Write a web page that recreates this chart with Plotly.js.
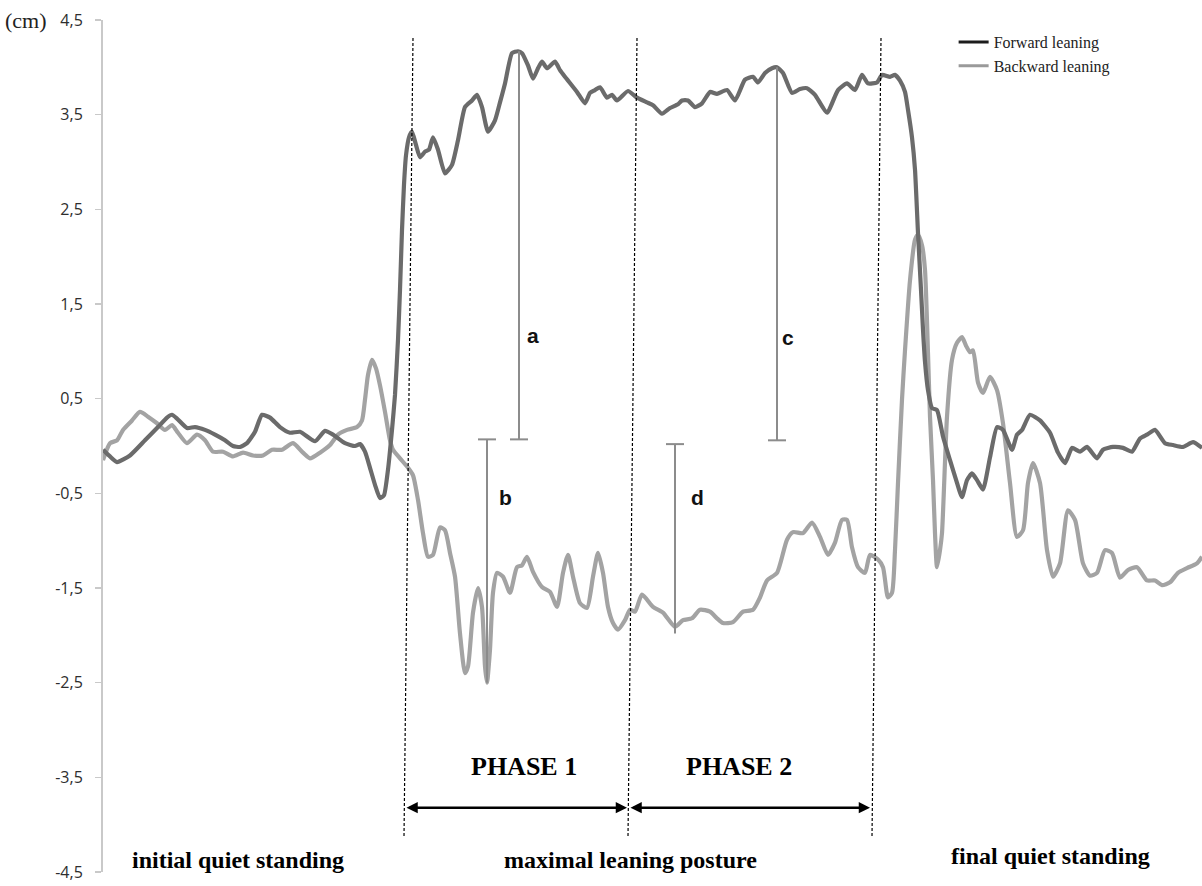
<!DOCTYPE html>
<html>
<head>
<meta charset="utf-8">
<script src="https://cdn.plot.ly/plotly-3.0.1.min.js"></script>
<style>html,body{margin:0;padding:0;background:#fff}</style>
</head>
<body>
<div id="chart" style="width:1202px;height:886px"></div>
<script>
// Centre-of-pressure displacement (cm) over the trial, sampled on an arbitrary time base
const forwardT = [
  0,7,14,27,42,55,64,69,74,84,
  92,102,112,122,130,137,144,152,159,167,
  177,187,197,212,222,230,242,252,257,262,
  267,272,277,281,285,289,292,295,297,299,
  301,303,306,309,313,317,322,326,330,335,
  342,349,355,362,369,374,379,385,392,397,
  402,409,415,419,425,430,435,439,444,452,
  457,462,474,482,487,492,497,504,509,514,
  525,534,544,550,559,567,575,579,585,592,
  599,607,614,624,632,642,650,655,662,669,
  674,680,689,697,704,712,724,735,744,752,
  759,765,774,779,787,792,797,802,805,809,
  812,815,818,820,822,825,829,834,840,847,
  854,859,864,869,874,880,887,894,900,909,
  914,919,927,937,947,955,962,969,977,984,
  994,1000,1010,1020,1029,1037,1044,1052,1062,1070,
  1080,1090,1099
];
const forwardY = [
  -0.04,-0.11,-0.17,-0.10,0.06,0.20,0.30,0.33,0.29,0.19,
  0.20,0.17,0.12,0.06,0.00,-0.01,0.03,0.15,0.33,0.30,
  0.20,0.14,0.15,0.05,0.16,0.12,0.03,0.00,0.02,-0.06,
  -0.23,-0.41,-0.55,-0.52,-0.25,0.17,0.54,1.12,1.65,2.28,
  2.76,3.07,3.26,3.32,3.18,3.05,3.11,3.13,3.26,3.13,
  2.88,2.97,3.23,3.58,3.65,3.71,3.58,3.32,3.44,3.63,
  3.83,4.15,4.17,4.15,4.02,3.88,3.99,4.06,3.99,4.06,
  3.97,3.90,3.74,3.62,3.73,3.76,3.79,3.68,3.71,3.65,
  3.75,3.68,3.63,3.60,3.51,3.57,3.61,3.65,3.65,3.58,
  3.62,3.74,3.72,3.76,3.65,3.87,3.90,3.84,3.94,3.99,
  4.00,3.94,3.73,3.77,3.78,3.71,3.52,3.76,3.83,3.76,
  3.92,3.83,3.84,3.92,3.90,3.92,3.86,3.74,3.55,3.26,
  2.92,2.25,1.65,1.23,0.89,0.59,0.40,0.38,0.10,-0.15,
  -0.39,-0.54,-0.36,-0.29,-0.36,-0.46,-0.12,0.20,0.17,-0.04,
  0.12,0.17,0.33,0.27,0.14,-0.07,-0.18,-0.02,-0.06,-0.01,
  -0.13,-0.04,-0.01,-0.02,-0.06,0.08,0.12,0.17,0.03,0.01,
  -0.01,0.04,-0.02
];
const backwardT = [
  0,7,14,20,29,37,45,54,62,69,
  75,84,94,102,110,120,130,140,150,160,
  169,179,190,200,207,217,227,235,244,254,
  259,262,265,269,273,277,282,287,290,297,
  305,310,315,320,325,330,337,342,347,352,
  357,362,365,370,375,379,382,384,387,390,
  394,400,407,414,419,424,430,439,447,454,
  460,465,470,477,484,490,495,500,505,510,
  515,522,527,532,539,550,560,572,580,589,
  597,607,614,620,630,640,650,657,664,674,
  684,690,700,709,717,725,732,739,744,749,
  755,762,767,775,780,785,789,792,795,799,
  802,807,812,815,819,822,825,827,830,832,
  834,837,839,844,849,854,859,863,867,870,
  875,880,887,894,900,907,914,920,925,930,
  937,944,950,957,965,972,980,987,994,1002,
  1009,1017,1025,1034,1044,1052,1059,1067,1075,1084,
  1094,1099
];
const backwardY = [
  -0.15,0.03,0.06,0.17,0.27,0.36,0.31,0.24,0.17,0.22,
  0.14,0.03,0.12,0.06,-0.06,-0.06,-0.11,-0.07,-0.10,-0.10,
  -0.04,-0.04,0.03,-0.07,-0.13,-0.07,0.01,0.12,0.17,0.20,
  0.27,0.49,0.75,0.91,0.82,0.64,0.36,0.06,-0.04,-0.13,
  -0.23,-0.31,-0.57,-0.92,-1.17,-1.15,-0.86,-0.89,-1.13,-1.38,
  -1.98,-2.40,-2.33,-1.76,-1.50,-1.70,-2.33,-2.50,-2.15,-1.55,
  -1.34,-1.38,-1.55,-1.28,-1.26,-1.17,-1.33,-1.49,-1.54,-1.70,
  -1.34,-1.15,-1.38,-1.66,-1.71,-1.38,-1.13,-1.34,-1.70,-1.87,
  -1.94,-1.84,-1.73,-1.75,-1.57,-1.70,-1.76,-1.91,-1.84,-1.82,
  -1.73,-1.75,-1.82,-1.87,-1.86,-1.75,-1.73,-1.60,-1.42,-1.34,
  -0.99,-0.91,-0.92,-0.81,-0.96,-1.15,-1.02,-0.78,-0.78,-1.07,
  -1.28,-1.34,-1.15,-1.20,-1.28,-1.60,-1.55,-1.10,-0.39,0.49,
  1.01,1.75,2.18,2.23,2.12,1.86,0.98,0.31,-0.36,-0.92,
  -1.28,-1.10,-0.92,0.31,0.91,1.09,1.15,1.06,0.99,1.01,
  0.67,0.56,0.73,0.59,0.24,-0.39,-0.96,-0.89,-0.39,-0.18,
  -0.39,-1.10,-1.38,-1.24,-0.68,-0.78,-1.24,-1.37,-1.34,-1.10,
  -1.13,-1.39,-1.31,-1.28,-1.42,-1.42,-1.47,-1.44,-1.34,-1.29,
  -1.24,-1.17
];

// Amplitude brackets a-d: position, end on the trace, capped end near zero
const bracketLabels = ['a', 'b', 'c', 'd'];
const bracketT = [416, 384, 674, 572];
const bracketTraceEnd = [4.17, -2.50, 4.00, -1.98];
const bracketCapEnd = [0.07, 0.07, 0.06, 0.02];
const bracketLabelT = [430, 402, 685, 594];
const bracketLabelY = [1.17, -0.54, 1.15, -0.54];

// Phase boundaries (top and bottom ends of each dashed marker)
const boundaryTopT = [310, 534, 778];
const boundaryBottomT = [301, 525, 769];
const boundaryTopY = 4.31;
const boundaryBottomY = -4.13;

const phaseNames = ['PHASE 1', 'PHASE 2'];
const phaseLabelT = [421, 636];
const phaseArrowStart = [302, 526];
const phaseArrowEnd = [524, 767];

const stageNames = ['initial quiet standing', 'maximal leaning posture', 'final quiet standing'];
const stageT = [135, 527, 947];
const stageY = [-4.37, -4.37, -4.33];

const tickVals = [4.5, 3.5, 2.5, 1.5, 0.5, -0.5, -1.5, -2.5, -3.5, -4.5];
const tickText = ['4,5', '3,5', '2,5', '1,5', '0,5', '-0,5', '-1,5', '-2,5', '-3,5', '-4,5'];

const SERIF = 'Liberation Serif, Times New Roman, serif';
const SANS = 'Liberation Sans, Arial, sans-serif';

const traces = [
  {x: backwardT, y: backwardY, type: 'scatter', mode: 'lines', showlegend: false,
   line: {color: '#a3a3a3', width: 4.2, shape: 'spline', smoothing: 0.6}, hoverinfo: 'skip'},
  {x: forwardT, y: forwardY, type: 'scatter', mode: 'lines', showlegend: false,
   line: {color: '#6b6b6b', width: 4.2, shape: 'spline', smoothing: 0.5}, hoverinfo: 'skip'}
];

// bracket strokes: one vertical stroke plus a short cap at the zero end
const capHalf = 9;
const bx = [], by = [];
bracketT.forEach((t, i) => {
  bx.push(t, t, null, t - capHalf, t + capHalf, null);
  by.push(bracketTraceEnd[i], bracketCapEnd[i], null, bracketCapEnd[i], bracketCapEnd[i], null);
});
traces.push({x: bx, y: by, type: 'scatter', mode: 'lines', showlegend: false,
  line: {color: '#8c8c8c', width: 2}, hoverinfo: 'skip'});

// legend entries
traces.push({x: [null], y: [null], type: 'scatter', mode: 'lines', name: 'Forward leaning',
  line: {color: '#1c1c1c', width: 3}});
traces.push({x: [null], y: [null], type: 'scatter', mode: 'lines', name: 'Backward leaning',
  line: {color: '#9a9a9a', width: 3}});

const shapes = boundaryTopT.map((t, i) => ({
  type: 'line', xref: 'x', yref: 'y',
  x0: t, y0: boundaryTopY, x1: boundaryBottomT[i], y1: boundaryBottomY,
  line: {color: '#000', width: 1.2, dash: '3px,2px'}
}));

const annotations = [];
bracketLabels.forEach((lab, i) => annotations.push({
  x: bracketLabelT[i], y: bracketLabelY[i], xref: 'x', yref: 'y', text: '<b>' + lab + '</b>', showarrow: false,
  font: {family: SANS, size: 21, color: '#111'}, xanchor: 'center', yanchor: 'middle'
}));
phaseNames.forEach((p, i) => {
  annotations.push({
    x: phaseLabelT[i], y: -3.39, xref: 'x', yref: 'y', text: '<b>' + p + '</b>', showarrow: false,
    font: {family: SERIF, size: 26, color: '#000'}, xanchor: 'center', yanchor: 'middle'
  });
  annotations.push({
    x: phaseArrowEnd[i], y: -3.82, ax: phaseArrowStart[i], ay: -3.82, axref: 'x', ayref: 'y',
    xref: 'x', yref: 'y', text: '', showarrow: true, arrowside: 'end+start',
    arrowhead: 2, arrowsize: 0.9, arrowwidth: 2.5, arrowcolor: '#000', standoff: 0, startstandoff: 0
  });
});
stageNames.forEach((s, i) => annotations.push({
  x: stageT[i], y: stageY[i], xref: 'x', yref: 'y', text: '<b>' + s + '</b>', showarrow: false,
  font: {family: SERIF, size: 24, color: '#000'}, xanchor: 'center', yanchor: 'middle'
}));
annotations.push({
  x: -0.091, y: 4.5, xref: 'paper', yref: 'y', text: '(cm)', showarrow: false,
  font: {family: SERIF, size: 22, color: '#222'}, xanchor: 'left', yanchor: 'middle'
});

const layout = {
  width: 1202, height: 886,
  margin: {l: 103, r: 0, t: 20, b: 14},
  paper_bgcolor: '#fff', plot_bgcolor: '#fff',
  xaxis: {range: [0, 1099], visible: false, fixedrange: true},
  yaxis: {
    range: [-4.5, 4.5], tickvals: tickVals, ticktext: tickText,
    showgrid: false, zeroline: false, showline: true, linecolor: '#c9c9c9', linewidth: 2,
    ticks: 'outside', ticklen: 6, tickwidth: 1.5, tickcolor: '#c9c9c9', ticklabelstandoff: 9,
    tickfont: {family: 'Open Sans, sans-serif', size: 16, color: '#2e2e2e'}
  },
  showlegend: true,
  legend: {
    x: 0.774, y: 0.994, xanchor: 'left', yanchor: 'top',
    bgcolor: 'rgba(0,0,0,0)', itemwidth: 30, tracegroupgap: 0,
    font: {family: SERIF, size: 16, color: '#222'}
  },
  shapes: shapes,
  annotations: annotations
};

Plotly.newPlot('chart', traces, layout, {displayModeBar: false, staticPlot: true});
</script>
</body>
</html>
